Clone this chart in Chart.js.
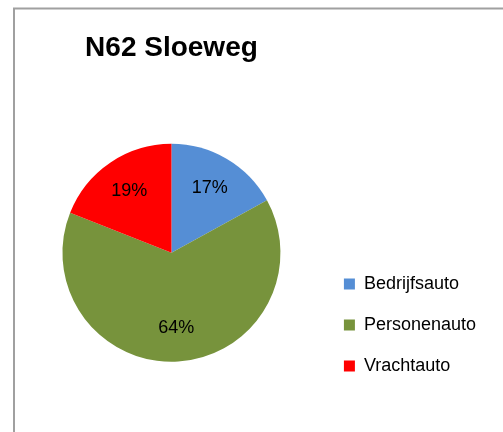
<!DOCTYPE html>
<html>
<head>
<meta charset="utf-8">
<title>N62 Sloeweg</title>
<script src="https://cdn.jsdelivr.net/npm/chart.js@4.4.1/dist/chart.umd.min.js"></script>
<style>
    html, body { margin: 0; padding: 0; background: #ffffff; }
    canvas { display: block; }
</style>
</head>
<body>
<canvas id="pieChart" width="503" height="432"></canvas>
<script>
// Chart data
const chartTitle = 'N62 Sloeweg';
const categories = ['Bedrijfsauto', 'Personenauto', 'Vrachtauto'];
const shares = [17, 64, 19];
const sliceColors = ['#558ed5', '#77933c', '#ff0000'];

const fontFamily = "'Liberation Sans', Arial, sans-serif";

// Grey frame around the chart, like the Excel chart border
const framePlugin = {
    id: 'frame',
    beforeDraw(chart) {
        const ctx = chart.ctx;
        ctx.save();
        ctx.fillStyle = '#ffffff';
        ctx.fillRect(0, 0, chart.width, chart.height);
        ctx.strokeStyle = '#a0a0a0';
        ctx.lineWidth = 2;
        ctx.beginPath();
        ctx.moveTo(14, chart.height);
        ctx.lineTo(14, 8.5);
        ctx.lineTo(chart.width, 8.5);
        ctx.stroke();
        ctx.restore();
    }
};

// Percentage labels inside the slices
const percentLabels = {
    id: 'percentLabels',
    afterDatasetsDraw(chart) {
        const ctx = chart.ctx;
        const meta = chart.getDatasetMeta(0);
        const values = chart.data.datasets[0].data;
        const total = values.reduce((a, b) => a + b, 0);
        ctx.save();
        ctx.font = '18px ' + fontFamily;
        ctx.fillStyle = '#000000';
        ctx.textAlign = 'center';
        ctx.textBaseline = 'middle';
        meta.data.forEach((arc, i) => {
            const p = arc.getProps(['x', 'y', 'startAngle', 'endAngle', 'outerRadius'], true);
            const mid = (p.startAngle + p.endAngle) / 2;
            const r = p.outerRadius * 0.69;
            const text = Math.round(values[i] / total * 100) + '%';
            ctx.fillText(text, p.x + Math.cos(mid) * r, p.y + Math.sin(mid) * r);
        });
        ctx.restore();
    }
};

const ctx = document.getElementById('pieChart').getContext('2d');
new Chart(ctx, {
    type: 'pie',
    data: {
        labels: categories,
        datasets: [{
            data: shares,
            backgroundColor: sliceColors,
            borderWidth: 0
        }]
    },
    options: {
        responsive: false,
        animation: false,
        radius: 109,
        layout: {
            padding: { left: 22, right: 17, top: 10, bottom: 34 }
        },
        plugins: {
            title: {
                display: true,
                text: chartTitle,
                fullSize: false,
                color: '#000000',
                font: { family: fontFamily, size: 28, weight: 'bold' },
                padding: { top: 21, bottom: 43 }
            },
            legend: {
                position: 'right',
                align: 'end',
                labels: {
                    color: '#000000',
                    font: { family: fontFamily, size: 18 },
                    boxWidth: 11,
                    boxHeight: 11,
                    padding: 23
                }
            },
            tooltip: { enabled: false }
        }
    },
    plugins: [framePlugin, percentLabels]
});
</script>
</body>
</html>
